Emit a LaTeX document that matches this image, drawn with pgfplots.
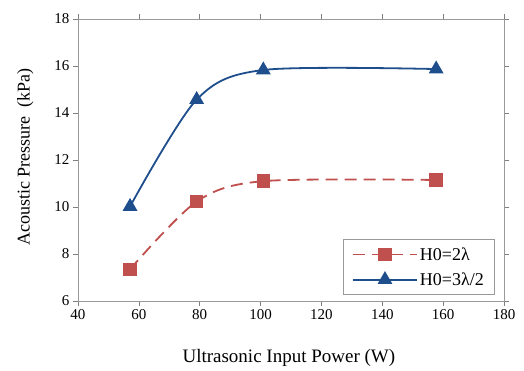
\documentclass[border=0pt]{standalone}
\usepackage{pgfplots}
\pgfplotsset{compat=1.18}
\usepackage{fontspec}
\setmainfont{Liberation Serif}
\definecolor{myblue}{HTML}{1F4E8C}
\definecolor{myred}{HTML}{C0504D}
\begin{document}
\begin{tikzpicture}
\begin{axis}[
  scale only axis,
  width=426pt, height=282pt,
  xmin=40, xmax=180, ymin=6, ymax=18,
  xtick={40,60,...,180}, ytick={6,8,...,18},
  tick align=outside,
  tick style={gray, line width=0.6pt},
  major tick length=5pt,
  axis line style={gray!80, line width=0.8pt},
  /pgf/number format/assume math mode=true,
  ticklabel style={font=\fontsize{15}{17}\selectfont},
  xlabel={Ultrasonic Input Power (W)},
  ylabel={Acoustic Pressure\ \ (kPa)},
  every axis x label/.style={at={(axis description cs:0.495,-0.202)}, anchor=center, font=\fontsize{19}{21}\selectfont},
  every axis y label/.style={at={(axis description cs:-0.124,0.51)}, anchor=center, rotate=90, font=\fontsize{18}{20}\selectfont},
  legend style={at={(0.979,0.021)}, anchor=south east, draw=gray!80, line width=0.6pt,
    font=\fontsize{18}{20}\selectfont, row sep=7pt, inner xsep=9pt, inner ysep=6pt},
  legend cell align=left,
  legend image code/.code={\draw[mark repeat=2,mark phase=2] plot coordinates {(0pt,0pt)(32pt,0pt)(64pt,0pt)};},
]
\addplot[myred, line width=1.8pt, dash pattern=on 12pt off 7pt, smooth, tension=0.5,
  mark=square*, mark size=5.8pt, mark options={solid, fill=myred}]
  coordinates {(57.1,7.35) (79,10.23) (100.9,11.1) (157.7,11.15)};
\addlegendentry{H0=2λ}
\addplot[myblue, line width=1.8pt, smooth, tension=0.5,
  mark=triangle*, mark size=6.8pt, mark options={solid, fill=myblue}]
  coordinates {(57.1,10.02) (79,14.57) (100.9,15.83) (157.7,15.87)};
\addlegendentry{H0=3λ/2}
\end{axis}
\path (current axis.south west) ++(-78pt,-69pt);
\path (current axis.north east) ++(20pt,19pt);
\end{tikzpicture}
\end{document}
